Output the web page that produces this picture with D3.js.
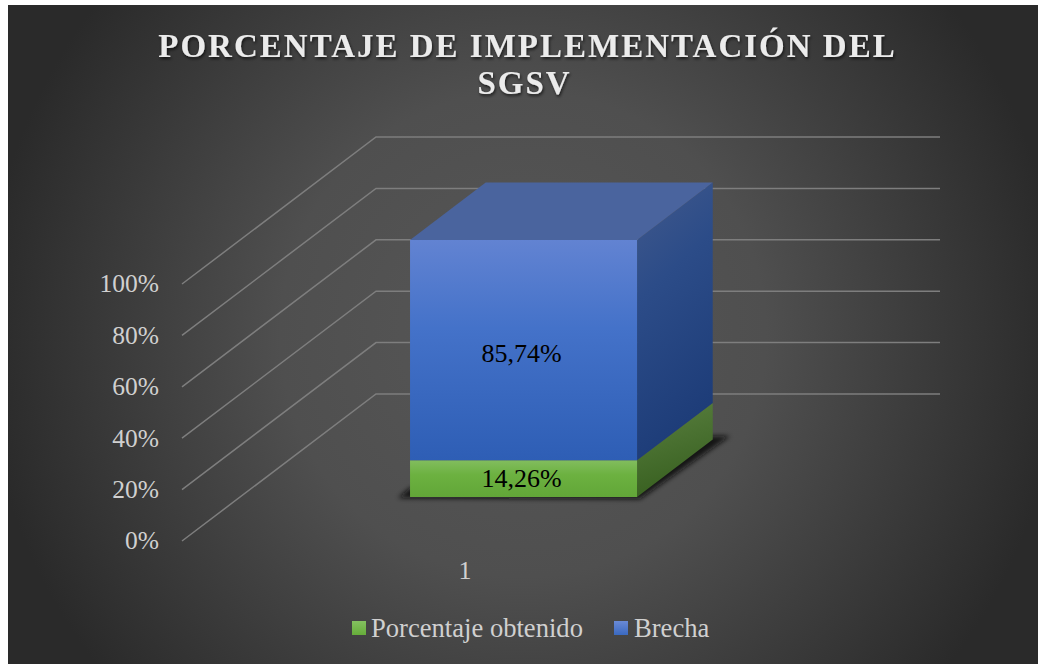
<!DOCTYPE html>
<html><head><meta charset="utf-8">
<style>html,body{margin:0;padding:0;background:#fff;overflow:hidden}svg{display:block}text{font-family:"Liberation Serif",serif}</style>
<script src="https://cdnjs.cloudflare.com/ajax/libs/d3/7.8.5/d3.min.js"></script>
</head><body><svg id="c" width="1038" height="664"></svg>
<script>
const titleLines = ["PORCENTAJE DE IMPLEMENTACIÓN DEL", "SGSV"];
const categories = ["1"];
const seriesNames = ["Porcentaje obtenido", "Brecha"];
const seriesValues = [0.1426, 0.8574];
const valueLabels = ["14,26%", "85,74%"];
const yTicks = [0, 0.2, 0.4, 0.6, 0.8, 1];

const svg = d3.select("#c");
const defs = svg.append("defs");
const bg = defs.append("radialGradient").attr("id","bg").attr("gradientUnits","userSpaceOnUse")
  .attr("cx",523).attr("cy",334).attr("r",540);
bg.append("stop").attr("offset",0).attr("stop-color","#575757");
bg.append("stop").attr("offset",0.45).attr("stop-color","#4f4f4f");
bg.append("stop").attr("offset",1).attr("stop-color","#2a2a2a");
function lin(id,stops,x2=0,y2=1){const g=defs.append("linearGradient").attr("id",id).attr("x1",0).attr("y1",0).attr("x2",x2).attr("y2",y2);
  stops.forEach(([o,c])=>g.append("stop").attr("offset",o).attr("stop-color",c));}
lin("fb",[[0,"#6283d2"],[0.4,"#4472c9"],[1,"#2e5eb5"]]);
lin("sb",[[0,"#41598c"],[0.4,"#2c4c88"],[1,"#1d3c78"]],0.25,1);
lin("fg",[[0,"#82bd5e"],[0.4,"#6cb140"],[1,"#62a638"]]);
lin("sg",[[0,"#5a8040"],[1,"#386020"]],0.25,1);
lin("lg1",[[0,"#84c060"],[1,"#66ad3a"]]);
lin("lg2",[[0,"#6a8ad6"],[1,"#3a69c0"]]);
defs.append("filter").attr("id","blur").attr("x","-20%").attr("y","-20%").attr("width","140%").attr("height","140%")
  .append("feGaussianBlur").attr("stdDeviation",2.5);
const ts = defs.append("filter").attr("id","ts").attr("x","-5%").attr("y","-20%").attr("width","110%").attr("height","150%");
ts.append("feDropShadow").attr("dx",1).attr("dy",2).attr("stdDeviation",1.5).attr("flood-color","#000").attr("flood-opacity",0.65);

svg.append("rect").attr("x",8).attr("y",5).attr("width",1030).attr("height",659).attr("fill","url(#bg)");

// scales: x across the wall, value up, depth from back wall (0) to front floor edge (1)
const x = d3.scaleBand().domain(categories).range([376,940]).padding(0.426).align(0.504);
const y = d3.scaleLinear().domain([0,1]).range([394,137]);
const depth = d3.scaleLinear().domain([0,1]).range([0,1]);
const dX = -194, dY = 147;
const P = (xv,v,z)=>[xv+dX*depth(z), y(v)+dY*depth(z)];
const poly = pts=>d3.line()(pts)+"Z";

// gridlines
const grid = svg.append("g").attr("fill","none").attr("stroke","#7e7e7e").attr("stroke-width",1.5);
yTicks.forEach(t=>grid.append("path").attr("d",d3.line()([P(940,t,0),P(376,t,0),P(376,t,1)])));

// value axis labels along the front floor edge
const axisY = d3.scaleLinear().domain([0,1]).range([y(0)+dY,y(1)+dY]);
const yAxis = d3.axisLeft(axisY).tickValues(yTicks).tickFormat(d3.format(".0%")).tickSize(0).tickPadding(0);
const ga = svg.append("g").attr("transform","translate(159,0)").call(yAxis);
ga.select(".domain").remove();
ga.selectAll("text").attr("fill","#d0d0d0").style("font-size","25.5px").style("font-family","'Liberation Serif',serif").attr("dy","0.31em");

const zF = 0.70, zB = 0.31;
const xL = x("1"), xR = xL + x.bandwidth();

// shadow on the floor
svg.append("path").attr("filter","url(#blur)").attr("fill","#111").attr("fill-opacity",0.9)
  .attr("d",poly([[398,498],[640,499],[730,436],[708,436],[630,488],[410,488]]));

const stack = d3.stack().keys([0,1]).value((d,k)=>d[k])([seriesValues]);
const frontFill=["url(#fg)","url(#fb)"], sideFill=["url(#sg)","url(#sb)"];
const labelDy=[8,11.5];
stack.forEach((s,i)=>{
  const v0=s[0][0], v1=s[0][1];
  svg.append("path").attr("fill",sideFill[i]).attr("d",poly([P(xR,v0,zF),P(xR,v0,zB),P(xR,v1,zB),P(xR,v1,zF)]));
  svg.append("path").attr("fill",frontFill[i]).attr("d",poly([P(xL,v0,zF),P(xR,v0,zF),P(xR,v1,zF),P(xL,v1,zF)]));
  const c=P((xL+xR)/2,(v0+v1)/2,zF);
  svg.append("text").attr("x",c[0]-2).attr("y",c[1]+labelDy[i]).attr("text-anchor","middle").attr("font-size",26).attr("fill","#000").text(valueLabels[i]);
});
svg.append("path").attr("fill","#4a649e").attr("d",poly([P(xL,1,zF),P(xR,1,zF),P(xR,1,zB),P(xL,1,zB)]));

// title
titleLines.forEach((t,i)=>svg.append("text").attr("x",[527.5,524.5][i]).attr("y",[57,94][i]).attr("text-anchor","middle")
  .attr("font-size",33).attr("font-weight","bold").attr("letter-spacing",2).attr("fill","#ebebeb").attr("filter","url(#ts)").text(t));

// category label
svg.append("text").attr("x",465).attr("y",579).attr("text-anchor","middle").attr("font-size",26).attr("fill","#d0d0d0").text(categories[0]);

// legend
const lx=[352,614], ltx=[371,634], lf=["url(#lg1)","url(#lg2)"];
seriesNames.forEach((n,i)=>{
  svg.append("rect").attr("x",lx[i]).attr("y",621).attr("width",14).attr("height",14).attr("fill",lf[i]);
  svg.append("text").attr("x",ltx[i]).attr("y",636.5).attr("font-size",26.6).attr("fill","#d0d0d0").text(n);
});
</script></body></html>
